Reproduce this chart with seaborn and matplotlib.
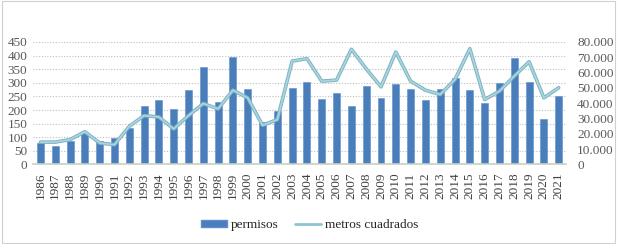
import matplotlib
matplotlib.use("Agg")
import matplotlib.pyplot as plt
import seaborn as sns
import numpy as np
import pandas as pd
from matplotlib.patches import Patch, Rectangle
from matplotlib.lines import Line2D
from matplotlib.ticker import FuncFormatter, MultipleLocator

years = list(range(1986, 2022))
permisos = [77, 66, 85, 115, 88, 96, 135, 214, 235, 204, 274, 358, 229, 396,
            277, 157, 197, 280, 302, 239, 263, 216, 288, 245, 294, 279, 236,
            278, 318, 272, 224, 300, 391, 302, 168, 251]
metros = [14600, 14600, 16200, 21400, 14000, 12900, 24900, 31900, 31000, 23200,
          31900, 39800, 36300, 48500, 43500, 25600, 29300, 67500, 69100, 54400,
          55100, 75200, 62500, 50700, 73400, 54400, 48500, 45700, 55500, 75600,
          42400, 47900, 57700, 67100, 43500, 50100]

df = pd.DataFrame({"year": [str(y) for y in years], "permisos": permisos,
                   "metros": metros})

sns.set_style("white")
plt.rcParams["font.family"] = ["Liberation Serif", "DejaVu Serif"]

fig = plt.figure(figsize=(6.17, 2.44), dpi=100)
ax = fig.add_axes([0.0535, 0.326, 0.864, 0.502])

bar_color = "#4a7ebb"
sns.barplot(data=df, x="year", y="permisos", ax=ax, color=bar_color,
            width=0.47, saturation=1, edgecolor="#5b8fcf", linewidth=0.4)

ax.set_ylim(0, 450)
ax.set_xlim(-0.5, len(years) - 0.5)
ax.yaxis.set_major_locator(MultipleLocator(50))
ax.grid(axis="y", color="#bfbfbf", linestyle=(0, (1, 1.5)), linewidth=0.8)
ax.set_axisbelow(True)
for s in ["top", "right", "left"]:
    ax.spines[s].set_visible(False)
ax.spines["bottom"].set_color("#c4d2c4")
ax.spines["bottom"].set_linewidth(1.2)
ax.set_xlabel("")
ax.set_ylabel("")
ax.tick_params(axis="y", labelsize=9.5, colors="#595959", length=0, pad=4)
ax.tick_params(axis="x", labelsize=9.5, colors="#404040", length=0, pad=6,
               rotation=90)

ax2 = ax.twinx()
sns.lineplot(x=np.arange(len(years)), y=metros, ax=ax2, color="#7fb3c2",
             linewidth=2.6)
sns.lineplot(x=np.arange(len(years)), y=metros, ax=ax2, color="#a9d6e0",
             linewidth=1.2)
ax2.set_ylim(0, 80000)
ax2.yaxis.set_major_locator(MultipleLocator(10000))
ax2.yaxis.set_major_formatter(FuncFormatter(
    lambda v, p: "0" if v == 0 else f"{int(v):,}".replace(",", ".")))
for s in ["top", "right", "left", "bottom"]:
    ax2.spines[s].set_visible(False)
ax2.tick_params(axis="y", labelsize=9.5, colors="#595959", length=0, pad=8)
ax2.set_ylabel("")
ax2.grid(False)

handles = [Patch(facecolor=bar_color, edgecolor="#5b8fcf"),
           Line2D([0], [0], color="#8cc4d2", linewidth=2)]
fig.legend(handles, ["permisos", "metros cuadrados"], loc="center",
           bbox_to_anchor=(0.502, 0.078), ncol=2, frameon=False,
           fontsize=9.5, handlelength=2.0, handleheight=0.5,
           handletextpad=0.3, columnspacing=1.2)

fig.patches.append(Rectangle((0.003, 0.006), 0.994, 0.988,
                             transform=fig.transFigure, fill=False,
                             edgecolor="#d0d0d0", linewidth=0.8))

fig.savefig("out.png", dpi=100)
